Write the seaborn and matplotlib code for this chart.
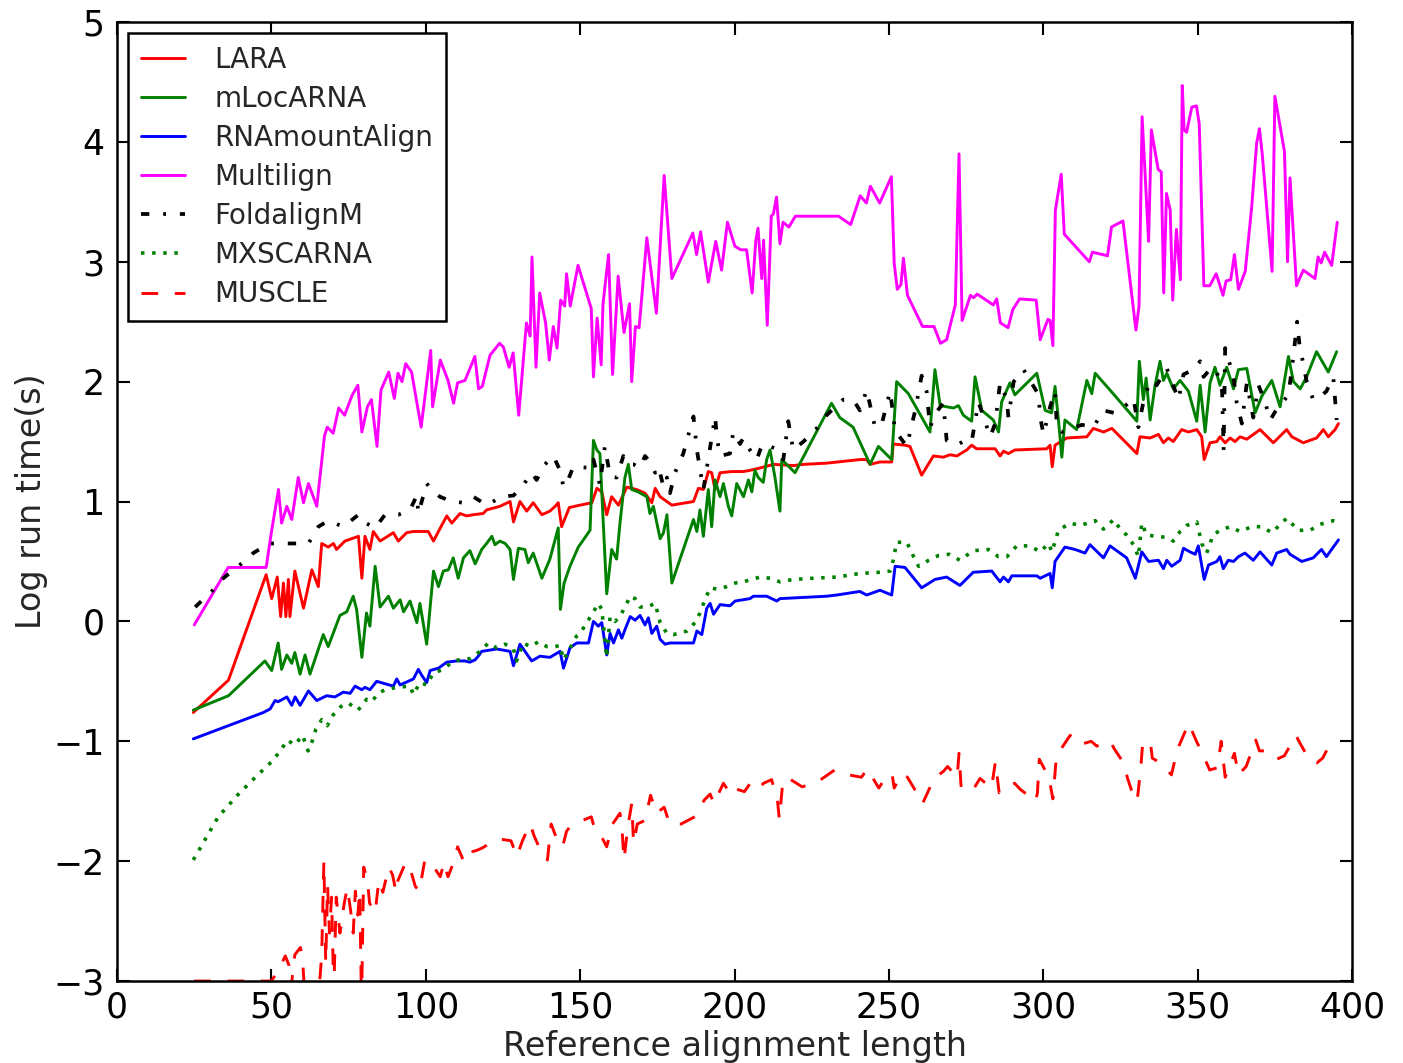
import matplotlib
matplotlib.use("Agg")
import matplotlib.pyplot as plt
import seaborn as sns

# (reference alignment length, log run time)
lara_pts = [(24.7,-0.76),(36.1,-0.49),(48.3,0.39),(50.1,0.19),(51.9,0.37),(53.0,0.04),(53.9,0.32),(54.7,0.04),(55.5,0.35),(56.0,0.04),
    (57.6,0.42),(60.4,0.11),(63.1,0.43),(65.2,0.29),(66.3,0.65),(68.4,0.62),(70.1,0.65),(71.1,0.6),(73.8,0.67),(78.2,0.71),
    (79.3,0.36),(80.3,0.71),(81.9,0.6),(83.0,0.75),(85.2,0.67),(89.5,0.74),(91.1,0.67),(93.8,0.74),(96.0,0.75),(100.8,0.75),
    (102.5,0.67),(104.1,0.75),(106.8,0.88),(108.4,0.82),(111.1,0.9),(113.2,0.88),(115.4,0.89),(118.6,0.9),(119.7,0.93),(124.0,0.96),
    (127.3,1.0),(128.4,0.83),(130.5,1.0),(132.7,0.92),(134.8,0.99),(137.6,0.89),(140.2,0.92),(141.9,0.96),(142.9,0.99),(144.0,0.79),
    (146.5,0.95),(150.0,0.97),(153.8,0.99),(155.4,1.11),(157.0,1.08),(158.6,0.89),(160.2,1.04),(162.4,0.97),(165.1,1.12),(168.3,1.1),
    (171.0,1.07),(173.2,0.99),(174.3,1.11),(175.9,1.04),(179.7,0.97),(186.7,1.0),(188.3,1.11),(189.9,1.1),(191.5,1.25),(192.6,1.24),
    (193.7,1.1),(195.3,1.24),(199.1,1.25),(202.8,1.25),(205.0,1.26),(208.3,1.28),(212.6,1.31),(219.0,1.3),(222.3,1.31),(229.8,1.32),
    (240.6,1.35),(242.8,1.35),(243.9,1.31),(247.1,1.33),(250.9,1.33),(251.4,1.48),(255.2,1.47),(256.8,1.46),(260.6,1.22),(264.4,1.38),
    (267.6,1.37),(269.8,1.39),(272.0,1.38),(275.2,1.43),(276.8,1.47),(278.4,1.44),(284.4,1.44),(286.0,1.38),(287.1,1.42),(288.7,1.4),
    (290.8,1.43),(301.1,1.44),(302.2,1.47),(302.9,1.29),(303.8,1.47),(307.6,1.53),(314.1,1.54),(316.2,1.61),(319.5,1.58),(322.2,1.61),
    (330.3,1.4),(331.3,1.54),(334.6,1.53),(337.3,1.56),(338.9,1.49),(340.5,1.53),(342.1,1.5),(344.8,1.6),(347.0,1.58),(349.7,1.6),
    (351.3,1.54),(352.1,1.35),(354.0,1.49),(356.2,1.5),(357.2,1.54),(358.9,1.49),(360.5,1.53),(362.1,1.5),(363.7,1.54),(365.9,1.52),
    (370.2,1.6),(374.5,1.49),(378.8,1.6),(380.5,1.54),(384.2,1.49),(388.5,1.53),(390.7,1.6),(392.3,1.54),(394.5,1.6),(395.6,1.65)]

mlocarna_pts = [(24.7,-0.74),(36.1,-0.62),(47.9,-0.33),(50.1,-0.41),(52.2,-0.18),(53.3,-0.4),(55.0,-0.28),(56.6,-0.35),(57.6,-0.26),(59.3,-0.44),
    (60.9,-0.28),(62.5,-0.44),(66.8,-0.11),(68.4,-0.21),(72.2,0.05),(74.4,0.08),(76.5,0.21),(77.6,0.1),(79.3,-0.3),(80.8,0.07),
    (81.9,-0.04),(83.6,0.46),(85.2,0.12),(87.9,0.21),(89.5,0.11),(91.7,0.18),(92.8,0.08),(94.9,0.17),(97.1,-0.01),(98.1,0.15),
    (100.3,-0.19),(102.5,0.42),(104.1,0.29),(105.7,0.42),(107.3,0.43),(108.9,0.53),(110.5,0.36),(112.2,0.53),(114.3,0.59),(116.0,0.48),
    (118.1,0.6),(119.7,0.65),(121.4,0.71),(122.4,0.64),(124.0,0.67),(125.7,0.65),(127.3,0.6),(128.4,0.35),(130.0,0.61),(132.1,0.6),
    (133.2,0.49),(134.8,0.57),(137.6,0.36),(140.2,0.52),(142.9,0.78),(143.6,0.1),(144.8,0.32),(146.7,0.46),(149.4,0.62),(153.2,0.76),
    (154.3,1.51),(155.4,1.43),(156.4,1.4),(158.6,0.23),(160.2,0.6),(161.8,0.52),(162.9,0.82),(164.5,1.2),(165.6,1.31),(166.7,1.1),
    (168.8,1.08),(171.6,1.04),(172.6,0.9),(173.7,0.96),(175.9,0.69),(177.0,0.74),(178.1,0.89),(179.7,0.32),(186.7,0.85),(187.8,0.75),
    (188.8,0.93),(189.9,0.71),(191.5,1.1),(192.6,0.79),(193.7,1.18),(195.3,1.04),(196.4,1.15),(198.0,0.96),(199.1,0.88),(200.7,1.15),
    (202.9,1.04),(204.5,1.18),(205.6,1.08),(206.6,1.26),(207.7,1.2),(209.3,1.16),(210.4,1.35),(211.5,1.43),(213.1,1.2),(214.7,0.92),
    (215.3,1.35),(219.6,1.24),(231.4,1.82),(234.1,1.7),(238.4,1.62),(243.9,1.31),(246.6,1.46),(250.9,1.35),(252.5,2.0),(256.3,1.9),
    (263.3,1.58),(264.9,2.1),(266.6,1.8),(268.7,1.79),(270.9,1.78),(272.5,1.8),(274.1,1.72),(276.8,1.67),(277.9,2.04),(280.1,1.76),
    (283.8,1.68),(285.5,1.58),(286.5,1.83),(289.2,1.99),(290.8,1.89),(297.9,2.07),(300.6,1.76),(302.7,1.74),(303.8,1.96),(304.9,1.68),
    (306.0,1.37),(307.0,1.68),(310.8,1.6),(314.1,2.01),(315.7,1.9),(316.8,2.07),(321.6,1.93),(330.3,1.67),(331.1,2.17),(332.4,1.85),
    (333.3,2.03),(334.6,1.68),(336.2,1.97),(337.8,2.17),(338.9,2.01),(340.0,2.07),(342.1,1.94),(344.3,2.01),(347.0,1.92),(349.7,1.67),
    (350.8,1.97),(352.4,1.58),(354.0,1.99),(355.6,2.12),(357.2,1.97),(359.4,2.12),(361.6,1.94),(363.2,2.1),(365.9,2.11),(368.6,1.74),
    (370.8,1.88),(374.0,2.01),(376.7,1.79),(379.4,2.21),(381.0,2.0),(383.2,1.94),(385.3,2.04),(388.5,2.25),(392.3,2.08),(395.0,2.25)]

rnamount_pts = [(24.7,-0.98),(47.4,-0.76),(49.6,-0.73),(51.2,-0.66),(52.2,-0.67),(55.0,-0.63),(56.6,-0.7),(57.7,-0.63),(59.3,-0.7),(62.0,-0.58),
    (64.7,-0.66),(67.9,-0.62),(70.6,-0.63),(73.3,-0.59),(75.5,-0.6),(77.1,-0.54),(79.3,-0.57),(80.3,-0.55),(81.9,-0.57),(84.1,-0.5),
    (89.5,-0.54),(90.6,-0.48),(91.7,-0.53),(96.0,-0.48),(97.6,-0.4),(98.7,-0.45),(100.3,-0.51),(101.4,-0.41),(104.1,-0.39),(106.8,-0.34),
    (110.0,-0.33),(112.7,-0.33),(114.3,-0.34),(116.0,-0.32),(117.0,-0.29),(118.1,-0.25),(123.0,-0.23),(127.3,-0.25),(128.4,-0.37),(130.5,-0.19),
    (134.3,-0.33),(137.0,-0.29),(140.2,-0.3),(143.5,-0.25),(144.6,-0.39),(146.7,-0.22),(148.9,-0.18),(152.7,-0.18),(154.3,0.0),(155.9,-0.04),
    (157.0,-0.01),(158.6,-0.28),(159.7,-0.1),(160.8,-0.18),(162.4,-0.07),(163.5,-0.14),(164.5,-0.07),(166.2,0.04),(167.8,0.01),(169.4,0.05),
    (171.0,-0.03),(172.1,0.03),(173.2,-0.1),(174.8,-0.04),(175.9,-0.15),(177.5,-0.19),(179.1,-0.18),(186.7,-0.18),(187.8,-0.08),(189.4,-0.11),
    (191.0,0.11),(192.1,0.15),(193.2,0.06),(195.3,0.14),(198.5,0.13),(200.2,0.17),(205.0,0.19),(206.1,0.21),(210.4,0.21),(213.7,0.17),
    (214.7,0.19),(229.8,0.21),(233.1,0.22),(240.6,0.25),(242.8,0.22),(247.1,0.26),(250.9,0.22),(252.0,0.46),(255.2,0.45),(260.6,0.28),
    (264.9,0.35),(268.7,0.37),(273.0,0.3),(277.3,0.41),(283.3,0.42),(286.0,0.33),(287.1,0.37),(288.7,0.33),(289.8,0.38),(297.9,0.38),
    (299.0,0.36),(302.2,0.4),(302.9,0.28),(303.8,0.5),(307.0,0.62),(310.3,0.6),(313.5,0.57),(315.1,0.64),(319.5,0.53),(321.6,0.63),
    (324.3,0.58),(327.0,0.53),(329.8,0.36),(331.9,0.58),(334.1,0.5),(337.3,0.51),(338.9,0.44),(340.0,0.51),(341.6,0.46),(344.3,0.51),
    (345.4,0.61),(347.5,0.58),(349.2,0.56),(350.2,0.63),(352.1,0.35),(353.5,0.47),(356.2,0.5),(357.2,0.54),(358.3,0.44),(359.9,0.51),
    (361.6,0.5),(363.2,0.54),(365.3,0.57),(368.0,0.51),(370.2,0.58),(374.0,0.47),(375.6,0.57),(378.8,0.6),(379.9,0.56),(383.7,0.5),
    (387.4,0.53),(390.1,0.6),(391.7,0.54),(395.6,0.68)]

multilign_pts = [(25,-0.03),(36,0.45),(48.3,0.45),(50.1,0.76),(52.3,1.1),(53.3,0.82),(55.0,0.96),(56.6,0.85),(58.7,1.2),(60.4,0.99),
    (62.0,1.15),(64.7,0.96),(67.2,1.55),(68.1,1.62),(70.0,1.57),(71.8,1.78),(73.7,1.72),(76.2,1.89),(78.0,1.97),(79.3,1.58),
    (81.1,1.79),(82.4,1.85),(84.2,1.46),(85.5,1.93),(88.0,2.08),(89.8,1.86),(91.0,2.07),(92.3,2.0),(93.5,2.15),(95.4,2.08),
    (98.5,1.62),(101.6,2.26),(102.2,1.79),(104.7,2.18),(107.2,2.01),(109.0,1.82),(110.3,1.99),(112.7,2.01),(115.9,2.21),(117.1,1.94),
    (118.3,1.96),(120.8,2.22),(123.9,2.32),(125.1,2.29),(127.0,2.12),(128.3,2.24),(130.1,1.72),(132.6,2.49),(133.8,2.38),(134.4,3.04),
    (135.7,2.12),(136.9,2.74),(138.8,2.49),(140.0,2.18),(141.3,2.46),(142.5,2.28),(143.7,2.68),(145.0,2.63),(145.6,2.9),(146.8,2.63),
    (149.3,2.97),(153.6,2.61),(154.3,2.04),(155.5,2.53),(156.8,2.14),(157.4,2.65),(159.2,3.06),(160.5,2.06),(162.3,2.88),(164.2,2.41),
    (166.0,2.65),(166.7,2.0),(167.9,2.46),(169.1,2.45),(171.6,3.2),(174.7,2.57),(177.2,3.72),(179.7,2.86),(186.5,3.24),(187.7,3.06),
    (189.0,3.25),(191.5,2.83),(193.9,3.17),(195.8,2.93),(197.7,3.33),(200.1,3.13),(202.0,3.1),(203.9,3.1),(205.7,2.74),(206.9,3.18),
    (207.6,3.28),(208.8,2.86),(209.4,3.18),(210.6,2.47),(211.9,3.38),(212.6,3.4),(213.6,3.54),(214.7,3.15),(215.7,3.33),(217.6,3.29),
    (219.7,3.38),(233.7,3.38),(237.6,3.31),(240.7,3.55),(242.7,3.49),(244.0,3.63),(247.0,3.49),(250.8,3.71),(251.7,2.99),(252.7,2.77),
    (253.9,2.81),(254.7,3.03),(256.0,2.72),(260.9,2.46),(264.6,2.46),(266.7,2.32),(268.7,2.35),(271.5,2.64),(272.7,3.9),(273.7,2.51),
    (276.4,2.72),(277.4,2.7),(278.6,2.73),(283.8,2.64),(284.9,2.69),(286.1,2.49),(288.6,2.45),(290.1,2.6),(292.3,2.69),(297.7,2.68),
    (299.0,2.35),(301.5,2.52),(302.2,2.51),(303.1,2.3),(303.9,3.43),(305.8,3.73),(306.8,3.23),(314.9,3.0),(315.9,3.08),(320.8,3.05),
    (322.1,3.29),(325.8,3.34),(330.0,2.43),(331.0,2.63),(332.0,4.21),(334.1,3.17),(335.0,4.1),(336.6,3.86),(337.2,3.77),(338.2,3.75),
    (339.0,2.74),(339.9,3.57),(341.1,3.43),(341.9,2.68),(343.1,3.27),(344.4,2.85),(345.0,4.47),(345.6,4.1),(346.4,4.08),(348.1,4.29),
    (349.6,4.3),(350.5,4.15),(352.0,2.8),(353.9,2.8),(356.0,2.9),(358.2,2.72),(359.2,2.84),(360.7,2.85),(361.9,3.06),(363.2,2.77),
    (365.4,2.92),(367.5,3.46),(369.1,3.99),(370.0,4.11),(370.9,3.9),(374.1,2.92),(375.0,4.38),(378.1,3.92),(379.1,3.0),(379.9,3.7),
    (382.0,2.8),(384.2,2.93),(388.0,2.86),(389.0,3.04),(390.0,2.99),(391.1,3.08),(393.4,2.97),(395.2,3.33)]

foldalignm_pts = [(25.3,0.12),(30.7,0.25),(34.4,0.36),(39.3,0.46),(44.1,0.57),(49.3,0.65),(53.9,0.65),(57.1,0.65),(62.0,0.65),(65.2,0.79),
    (68.4,0.84),(73.3,0.79),(78.2,0.89),(79.8,0.83),(83.6,0.78),(86.8,0.89),(91.1,0.89),(94.9,0.93),(97.1,1.05),(97.6,0.9),
    (100.3,1.15),(102.5,1.08),(104.6,1.04),(108.4,1.0),(112.2,0.99),(115.4,1.04),(119.7,0.97),(124.6,1.04),(128.4,1.05),(131.1,1.12),
    (134.3,1.24),(135.9,1.18),(138.6,1.31),(141.3,1.38),(143.5,1.26),(144.6,1.12),(145.6,1.15),(147.8,1.29),(153.8,1.28),(154.3,1.35),
    (156.4,1.14),(158.0,1.46),(159.7,1.21),(161.8,1.2),(164.0,1.38),(165.6,1.31),(167.3,1.31),(169.4,1.28),(171.0,1.38),(172.6,1.33),
    (174.3,1.24),(175.4,1.29),(177.0,1.12),(178.1,1.2),(179.1,1.07),(180.7,1.24),(183.4,1.4),(185.0,1.55),(186.7,1.71),(187.8,1.43),
    (189.9,1.1),(193.7,1.71),(194.3,1.53),(195.3,1.38),(198.5,1.4),(199.6,1.58),(201.8,1.48),(202.8,1.53),(203.9,1.47),(207.2,1.35),
    (208.3,1.43),(209.3,1.48),(211.5,1.46),(214.2,1.43),(215.8,1.35),(217.4,1.67),(219.0,1.43),(222.3,1.5),(226.6,1.61),(229.8,1.72),
    (235.2,1.85),(238.4,1.85),(240.6,1.76),(242.8,1.93),(245.5,1.62),(247.7,1.65),(250.4,1.92),(252.0,1.59),(255.8,1.46),(258.5,1.76),
    (260.6,2.05),(262.2,1.92),(263.3,1.62),(265.5,1.75),(267.6,1.82),(268.7,1.51),(272.0,1.47),(274.6,1.51),(276.8,1.5),(279.0,1.83),
    (282.8,1.54),(284.4,1.65),(286.0,1.99),(288.2,1.85),(288.7,1.7),(290.4,2.0),(293.6,2.1),(298.5,1.89),(299.0,1.7),(300.1,1.56),
    (302.2,1.79),(303.8,1.92),(304.4,1.62),(306.0,1.58),(312.5,1.64),(316.2,1.62),(319.5,1.76),(322.8,1.74),(324.9,1.76),(329.2,1.86),
    (330.8,1.62),(332.4,1.83),(334.6,2.01),(336.7,1.97),(340.0,2.11),(343.8,1.85),(345.4,2.06),(348.6,2.1),(350.8,2.17),(351.9,2.04),
    (354.6,2.12),(356.2,2.08),(357.9,1.92),(358.4,1.43),(358.9,2.28),(361.6,2.04),(362.6,1.83),(364.3,1.65),(365.9,1.99),(368.0,1.7),
    (369.7,1.97),(371.8,1.83),(373.5,1.68),(375.1,1.75),(379.4,1.89),(381.0,2.21),(382.2,2.5),(383.0,2.3),(384.2,2.15),(385.3,2.0),
    (387.4,1.85),(389.1,1.86),(391.7,1.92),(393.9,2.04),(394.5,1.85),(395.0,1.68)]

mxscarna_pts = [(24.7,-1.99),(32.8,-1.63),(39.0,-1.45),(45.2,-1.29),(50.1,-1.17),(53.2,-1.07),(55.1,-0.99),(57.6,-1.03),(60.1,-0.95),(61.9,-1.08),
    (63.2,-1.0),(64.4,-0.9),(66.3,-0.82),(68.1,-0.87),(70.0,-0.78),(72.5,-0.71),(74.9,-0.68),(78.0,-0.74),(79.9,-0.69),(80.8,-0.65),
    (82.5,-0.67),(84.6,-0.6),(86.8,-0.57),(90.6,-0.55),(94.9,-0.54),(96.0,-0.61),(98.1,-0.51),(100.3,-0.53),(102.5,-0.43),(105.7,-0.4),
    (108.9,-0.33),(111.1,-0.32),(114.3,-0.31),(117.6,-0.25),(120.3,-0.18),(123.0,-0.22),(125.7,-0.19),(128.4,-0.23),(129.4,-0.33),(131.6,-0.18),
    (133.8,-0.21),(136.5,-0.17),(139.2,-0.21),(141.9,-0.21),(143.5,-0.2),(144.6,-0.32),(146.2,-0.25),(148.9,-0.12),(150.0,-0.1),(154.3,0.08),
    (155.9,0.15),(157.0,0.1),(158.6,-0.3),(159.7,0.04),(161.3,0.0),(162.9,0.04),(165.1,0.15),(166.2,0.21),(167.8,0.19),(169.4,0.12),
    (171.6,0.12),(174.3,0.15),(175.9,-0.01),(178.1,-0.1),(180.2,-0.11),(184.6,-0.08),(187.2,-0.01),(188.8,0.07),(190.4,0.18),(192.1,0.28),
    (194.2,0.27),(196.4,0.28),(200.2,0.32),(202.8,0.33),(205.6,0.35),(208.3,0.37),(211.5,0.36),(214.7,0.33),(219.0,0.35),(225.5,0.36),
    (233.1,0.37),(240.6,0.4),(247.1,0.41),(250.4,0.42),(251.4,0.51),(252.5,0.66),(255.8,0.66),(258.0,0.54),(259.6,0.46),(262.9,0.51),
    (266.1,0.55),(269.5,0.56),(273.0,0.51),(277.3,0.59),(282.2,0.6),(285.5,0.54),(288.2,0.54),(291.4,0.63),(295.7,0.63),(299.0,0.58),
    (301.7,0.65),(302.8,0.58),(304.9,0.76),(308.7,0.82),(311.9,0.8),(316.8,0.84),(319.5,0.77),(322.8,0.85),(324.9,0.77),(327.0,0.72),
    (329.2,0.64),(330.8,0.54),(331.9,0.82),(333.5,0.72),(336.7,0.71),(340.0,0.7),(342.1,0.67),(344.3,0.75),(346.4,0.8),(349.7,0.83),
    (351.3,0.65),(352.9,0.57),(355.0,0.72),(357.2,0.76),(360.5,0.79),(363.7,0.75),(367.5,0.79),(370.8,0.79),(374.0,0.74),(378.8,0.86),
    (382.6,0.76),(386.4,0.76),(389.6,0.81),(393.9,0.84),(395.0,0.83)]

muscle_pts = [(25,-3.0),(38,-3.0),(50,-3.0),(52.5,-2.9),(54.5,-2.79),(55.7,-2.87),(56.4,-3.05),(57.6,-2.78),(59.4,-2.72),(60.1,-2.83),
    (60.8,-3.1),(63,-3.2),(65.5,-3.05),(66.3,-2.78),(67.0,-2.0),(67.6,-2.85),(68.2,-2.2),(68.8,-2.6),(69.5,-2.3),(70.2,-3.1),
    (71.0,-2.3),(72.2,-2.6),(73.6,-2.35),(74.6,-2.22),(75.6,-2.4),(76.5,-2.6),(77.2,-2.25),(78.0,-2.45),(78.6,-2.25),(79.2,-3.2),
    (79.9,-2.05),(81.1,-2.16),(81.8,-2.35),(83.6,-2.43),(84.8,-2.16),(86.1,-2.26),(88.0,-2.05),(89.2,-2.11),(90.4,-2.26),(91.0,-2.16),
    (93.5,-2.01),(94.8,-2.05),(96.6,-2.21),(97.9,-2.25),(99.7,-1.99),(101.6,-2.01),(104.7,-2.13),(105.9,-2.01),(107.2,-2.13),(109.0,-2.01),
    (110.3,-1.88),(112.1,-1.99),(113.4,-2.01),(115.2,-1.92),(116.5,-1.91),(118.3,-1.89),(122.7,-1.82),(125.2,-1.82),(127.6,-1.83),(129.5,-1.96),
    (131.3,-1.83),(133.8,-1.69),(135.1,-1.79),(137.5,-1.93),(139.4,-1.99),(140.6,-1.69),(142.5,-1.82),(144.3,-1.88),(145.6,-1.75),(146.8,-1.71),
    (149.9,-1.67),(153.6,-1.63),(154.9,-1.75),(156.8,-1.79),(158.6,-1.88),(160.5,-1.69),(162.9,-1.6),(163.5,-1.71),(164.2,-1.99),(165.4,-1.72),
    (166.7,-1.52),(167.3,-1.85),(168.5,-1.69),(171.0,-1.66),(172.8,-1.45),(174.7,-1.6),(177.2,-1.55),(179.0,-1.69),(182.7,-1.69),(187.1,-1.63),
    (190.2,-1.49),(192.1,-1.44),(193.3,-1.52),(196.4,-1.35),(198.9,-1.45),(200.7,-1.4),(203.2,-1.42),(205.1,-1.35),(207.6,-1.4),(209.4,-1.35),
    (212.0,-1.32),(213.9,-1.49),(214.5,-1.65),(215.7,-1.32),(217.6,-1.31),(221.9,-1.38),(226.8,-1.34),(232.4,-1.24),(234.9,-1.27),(241.1,-1.3),
    (243.0,-1.23),(246.7,-1.39),(248.5,-1.32),(251.0,-1.27),(251.7,-1.39),(254.1,-1.27),(256.0,-1.3),(259.7,-1.46),(260.9,-1.52),(264.6,-1.31),
    (267.7,-1.25),(269.0,-1.21),(272.1,-1.3),(272.7,-1.1),(273.4,-1.39),(277.1,-1.41),(279.5,-1.31),(283.2,-1.39),(284.5,-1.17),(285.7,-1.43),
    (288.2,-1.38),(290.7,-1.35),(292.5,-1.4),(297.5,-1.5),(298.1,-1.43),(298.7,-1.15),(301.8,-1.3),(303.1,-1.48),(304.3,-1.11),(305.6,-1.07),
    (308.7,-0.95),(311.7,-1.03),(315.5,-1.0),(317.3,-1.04),(321.7,-1.0),(322.9,-1.06),(326.0,-1.18),(327.3,-1.31),(329.1,-1.45),(330.4,-1.5),
    (331.6,-1.21),(332.2,-1.01),(334.7,-1.01),(335.3,-1.14),(338.4,-1.19),(341.5,-1.28),(343.4,-1.07),(347.1,-0.85),(349.6,-1.0),(351.5,-1.1),
    (353.9,-1.24),(356.4,-1.22),(357.6,-1.0),(358.9,-1.3),(361.9,-1.1),(363.2,-1.28),(365.7,-1.21),(368.8,-0.99),(370.0,-1.08),(372.5,-1.08),
    (375.6,-1.15),(378.1,-1.12),(381.8,-0.95),(383.0,-1.01),(386.1,-1.15),(388.6,-1.18),(390.5,-1.14),(392.9,-1.02),(395.0,-0.99)]

sns.set_style("ticks")
plt.rcParams['font.family'] = ['DejaVu Sans']
plt.rcParams['lines.scale_dashes'] = False

fig = plt.figure(figsize=(14.03, 10.63), dpi=100)
ax = fig.add_axes([0.0834, 0.0771, 0.8803, 0.9022])

# name, points, colour, line style, line width
series = [
    ("LARA", lara_pts, "red", "-", 2.1),
    ("mLocARNA", mlocarna_pts, "green", "-", 2.1),
    ("RNAmountAlign", rnamount_pts, "blue", "-", 2.1),
    ("Multilign", multilign_pts, "magenta", "-", 2.1),
    ("FoldalignM", foldalignm_pts, "black", (0, (6, 10, 2, 10)), 2.7),
    ("MXSCARNA", mxscarna_pts, "green", (0, (2.5, 5.5)), 2.6),
    ("MUSCLE", muscle_pts, "red", (0, (12, 12)), 2.1),
]

for name, pts, color, ls, lw in series:
    xs = [p[0] for p in pts]
    ys = [p[1] for p in pts]
    sns.lineplot(x=xs, y=ys, ax=ax, color=color, linestyle=ls, linewidth=lw,
                 label=name, estimator=None, sort=False, errorbar=None)

ax.set_xlim(0, 400)
ax.set_ylim(-3, 5)
ax.set_xticks(range(0, 401, 50))
ax.set_yticks(range(-3, 6))
ax.tick_params(direction='in', top=True, right=True, length=9, width=1.5,
               labelsize=25, colors='black')
ax.tick_params(axis='x', pad=7)
ax.tick_params(axis='y', pad=9)
for sp in ax.spines.values():
    sp.set_visible(True)
    sp.set_color('black')
    sp.set_linewidth(1.8)

ax.set_xlabel("Reference alignment length", fontsize=24, labelpad=4)
ax.set_ylabel("Log run time(s)", fontsize=24, labelpad=4)

leg = ax.legend(loc='upper left', fontsize=20, fancybox=False, edgecolor='black',
                framealpha=1, handlelength=1.6, handletextpad=1.05,
                borderpad=0.45, labelspacing=0.4, borderaxespad=0.4)
leg.get_frame().set_linewidth(1.8)

fig.savefig("out.png", dpi=100)
